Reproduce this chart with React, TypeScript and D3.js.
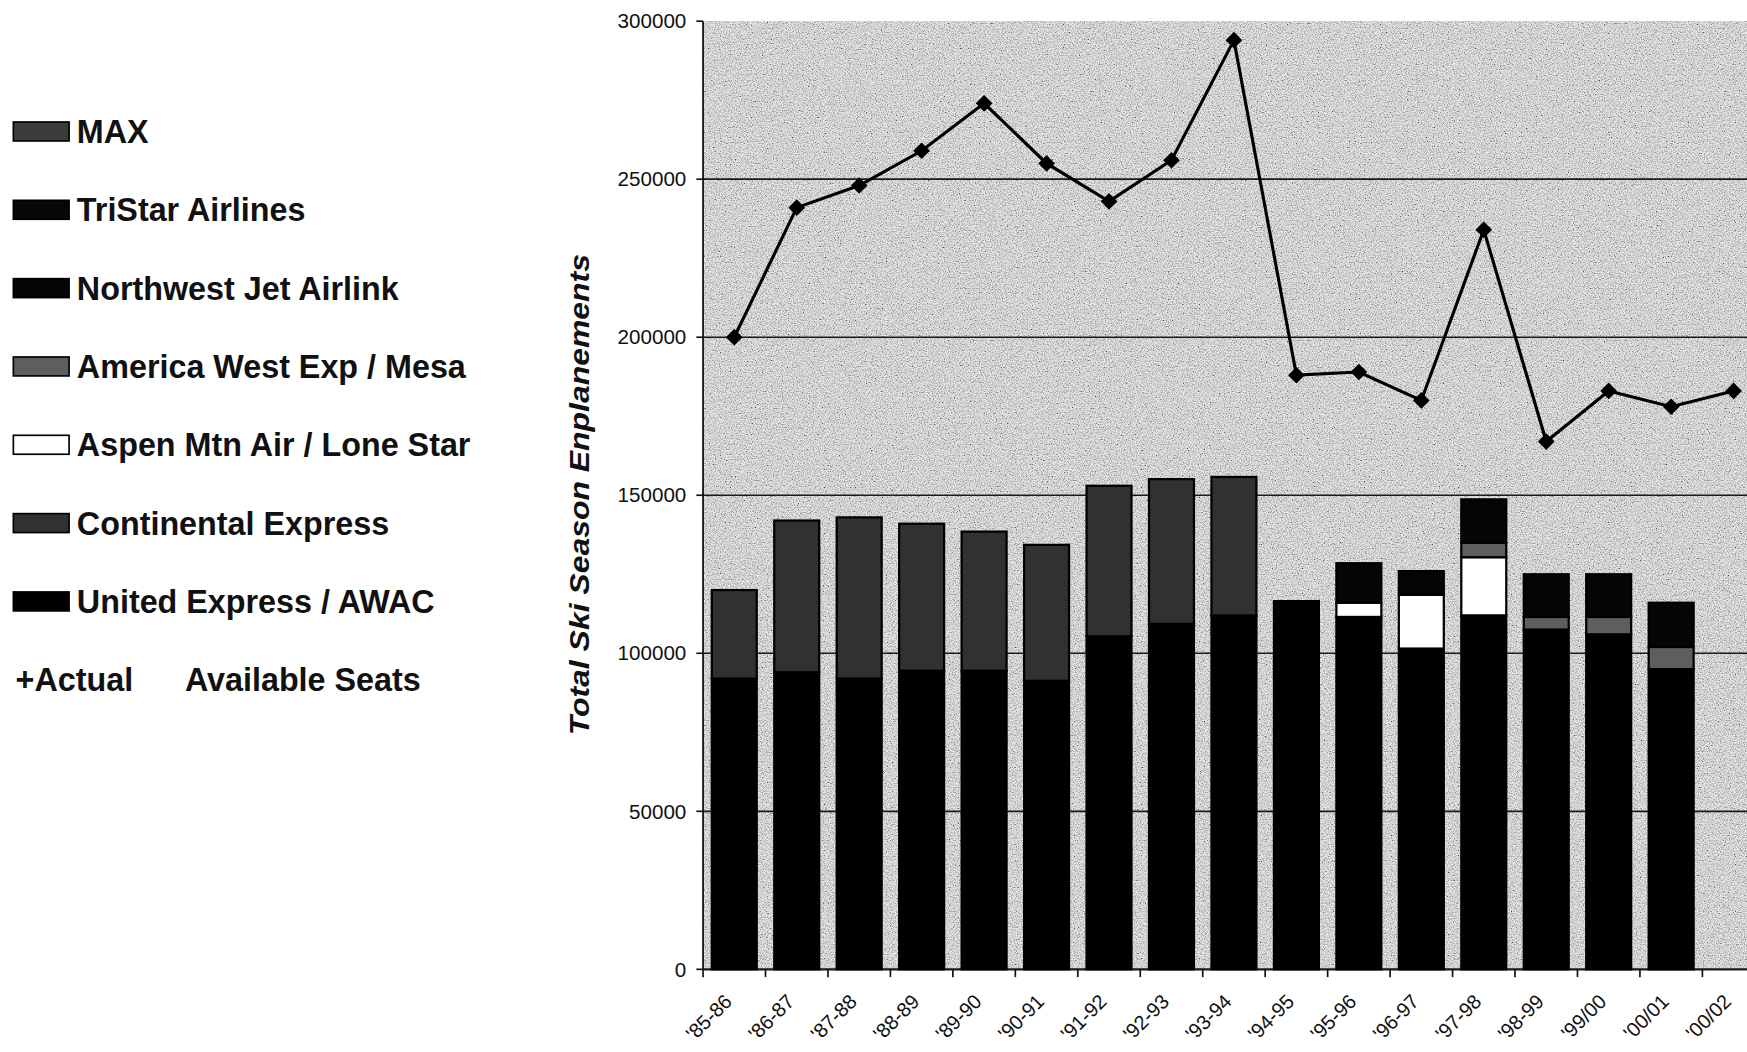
import React from "react";
import * as d3 from "d3";

const categories = ["'85-86", "'86-87", "'87-88", "'88-89", "'89-90", "'90-91", "'91-92", "'92-93", "'93-94", "'94-95", "'95-96", "'96-97", "'97-98", "'98-99", "'99/00", "'00/01", "'00/02"];

const unitedExpress = [92000, 94000, 92000, 94500, 94500, 91300, 105400, 109300, 112000, 116500, 111500, 101500, 112000, 107500, 106000, 95000, 0];
const continentalExpress = [28000, 48000, 51000, 46500, 44000, 43000, 47600, 45800, 43800, 0, 0, 0, 0, 0, 0, 0, 0];
const aspenMtnAir = [0, 0, 0, 0, 0, 0, 0, 0, 0, 0, 4500, 17000, 18400, 0, 0, 0, 0];
const americaWest = [0, 0, 0, 0, 0, 0, 0, 0, 0, 0, 0, 0, 4600, 4000, 5500, 7000, 0];
const northwestJet = [0, 0, 0, 0, 0, 0, 0, 0, 0, 0, 12500, 7500, 13700, 13500, 13500, 14000, 0];
const triStar = [0, 0, 0, 0, 0, 0, 0, 0, 0, 0, 0, 0, 0, 0, 0, 0, 0];
const maxAir = [0, 0, 0, 0, 0, 0, 0, 0, 0, 0, 0, 0, 0, 0, 0, 0, 0];

const actualSeats = [200000, 241000, 248000, 259000, 274000, 255000, 243000, 256000, 294000, 188000, 189000, 180000, 234000, 167000, 183000, 178000, 183000];

const yTicks = [0, 50000, 100000, 150000, 200000, 250000, 300000];

const seriesKeys = ["united", "continental", "aspen", "amwest", "northwest", "tristar", "max"];
const seriesFill: Record<string, string> = {
  united: "#000000",
  continental: "#313131",
  aspen: "#ffffff",
  amwest: "#5e5e5e",
  northwest: "#050505",
  tristar: "#080808",
  max: "#3c3c3c",
};
const legendItems = [
  { key: "max", label: "MAX" },
  { key: "tristar", label: "TriStar Airlines" },
  { key: "northwest", label: "Northwest Jet Airlink" },
  { key: "amwest", label: "America West Exp / Mesa" },
  { key: "aspen", label: "Aspen Mtn Air / Lone Star" },
  { key: "continental", label: "Continental Express" },
  { key: "united", label: "United Express / AWAC" },
];

// design space (scaled to the 1747x1052 page via viewBox)
const VW = 1568;
const VH = 944.2;
const plotLeft = 631;
const plotTop = 19;
const plotBottom = 870;
const plotRight = VW;
const FONT = "'Liberation Sans', Arial, Helvetica, sans-serif";

export default function App() {
  const rows = categories.map((c, i) => ({
    cat: c,
    united: unitedExpress[i],
    continental: continentalExpress[i],
    aspen: aspenMtnAir[i],
    amwest: americaWest[i],
    northwest: northwestJet[i],
    tristar: triStar[i],
    max: maxAir[i],
  }));
  const stacked = d3.stack<any>().keys(seriesKeys)(rows);

  const step = 56.06;
  const x = d3
    .scaleBand<string>()
    .domain(categories)
    .range([plotLeft, plotLeft + step * categories.length])
    .paddingInner(0.28)
    .paddingOuter(0.14);
  const y = d3.scaleLinear().domain([0, 300000]).range([plotBottom, plotTop]);

  const cx = (c: string) => (x(c) as number) + x.bandwidth() / 2;
  const line = d3
    .line<number>()
    .x((_, i) => cx(categories[i]))
    .y((d) => y(d));

  const diamond = "M0,-7.5L7.5,0L0,7.5L-7.5,0Z";

  return (
    <svg
      width={1747}
      height={1052}
      viewBox={`0 0 ${VW} ${VH}`}
      preserveAspectRatio="none"
      style={{ position: "absolute", left: 0, top: 0, background: "#fff" }}
      fontFamily={FONT}
    >
      <defs>
        <filter id="grain" x="0" y="0" width="100%" height="100%" filterUnits="objectBoundingBox">
          <feTurbulence type="fractalNoise" baseFrequency="0.9" numOctaves="2" seed="7" result="t" />
          <feColorMatrix
            in="t"
            type="matrix"
            values="2.2 0 0 0 -0.38  2.2 0 0 0 -0.38  2.2 0 0 0 -0.38  0 0 0 0 1"
          />
        </filter>
      </defs>

      {/* plot background */}
      <rect x={plotLeft} y={plotTop} width={plotRight - plotLeft} height={plotBottom - plotTop} fill="#c4c4c4" />
      <rect
        x={plotLeft}
        y={plotTop}
        width={plotRight - plotLeft}
        height={plotBottom - plotTop}
        filter="url(#grain)"
        opacity={0.6}
      />

      {/* gridlines */}
      {yTicks.map((t) =>
        t === 300000 ? null : (
          <line
            key={"g" + t}
            x1={plotLeft}
            x2={plotRight}
            y1={y(t)}
            y2={y(t)}
            stroke="#1a1a1a"
            strokeWidth={t === 0 ? 2 : 1.5}
          />
        )
      )}

      {/* bars */}
      {stacked.map((layer) => (
        <g key={layer.key}>
          {layer.map((d, i) =>
            d[1] - d[0] > 0 ? (
              <rect
                key={i}
                x={x(categories[i])}
                y={y(d[1])}
                width={x.bandwidth()}
                height={y(d[0]) - y(d[1])}
                fill={seriesFill[layer.key]}
                stroke="#000"
                strokeWidth={2}
              />
            ) : null
          )}
        </g>
      ))}

      {/* axes */}
      <line x1={plotLeft} x2={plotLeft} y1={plotTop} y2={plotBottom} stroke="#111" strokeWidth={1.6} />
      {yTicks.map((t) => (
        <g key={"yt" + t}>
          <line x1={plotLeft - 6} x2={plotLeft} y1={y(t)} y2={y(t)} stroke="#111" strokeWidth={1.5} />
          <text x={616} y={y(t)} dy="0.35em" textAnchor="end" fontSize={18.5} fill="#111">
            {t}
          </text>
        </g>
      ))}
      {categories.map((c, i) => (
        <line
          key={"xt" + i}
          x1={(x(c) as number) - x.step() * 0.14}
          x2={(x(c) as number) - x.step() * 0.14}
          y1={plotBottom}
          y2={plotBottom + 7}
          stroke="#111"
          strokeWidth={1.5}
        />
      ))}
      {categories.map((c) => (
        <text
          key={"xl" + c}
          transform={`translate(${cx(c) - 1},${plotBottom + 30}) rotate(-45)`}
          textAnchor="end"
          fontSize={18}
          fill="#111"
        >
          {c}
        </text>
      ))}

      {/* line series */}
      <path d={line(actualSeats) || ""} fill="none" stroke="#000" strokeWidth={2.8} />
      {actualSeats.map((v, i) => (
        <path key={"m" + i} d={diamond} transform={`translate(${cx(categories[i])},${y(v)})`} fill="#000" />
      ))}

      {/* y axis title */}
      <text
        transform={`translate(529,444) rotate(-90)`}
        textAnchor="middle"
        fontSize={24}
        fontWeight="bold"
        fontStyle="italic"
        fill="#111"
        textLength={432}
        lengthAdjust="spacingAndGlyphs"
      >
        Total Ski Season Enplanements
      </text>

      {/* legend */}
      {legendItems.map((it, i) => {
        const cy = 118 + i * 70.3;
        return (
          <g key={it.key}>
            <rect
              x={12}
              y={cy - 8.5}
              width={50}
              height={17}
              fill={seriesFill[it.key]}
              stroke="#000"
              strokeWidth={1.5}
            />
            <text x={69} y={cy} dy="0.36em" fontSize={29} fontWeight="bold" fill="#111">
              {it.label}
            </text>
          </g>
        );
      })}
      <text x={14} y={118 + 7 * 70.3} dy="0.36em" fontSize={29} fontWeight="bold" fill="#111">
        +Actual
      </text>
      <text x={166} y={118 + 7 * 70.3} dy="0.36em" fontSize={29} fontWeight="bold" fill="#111">
        Available Seats
      </text>
    </svg>
  );
}
